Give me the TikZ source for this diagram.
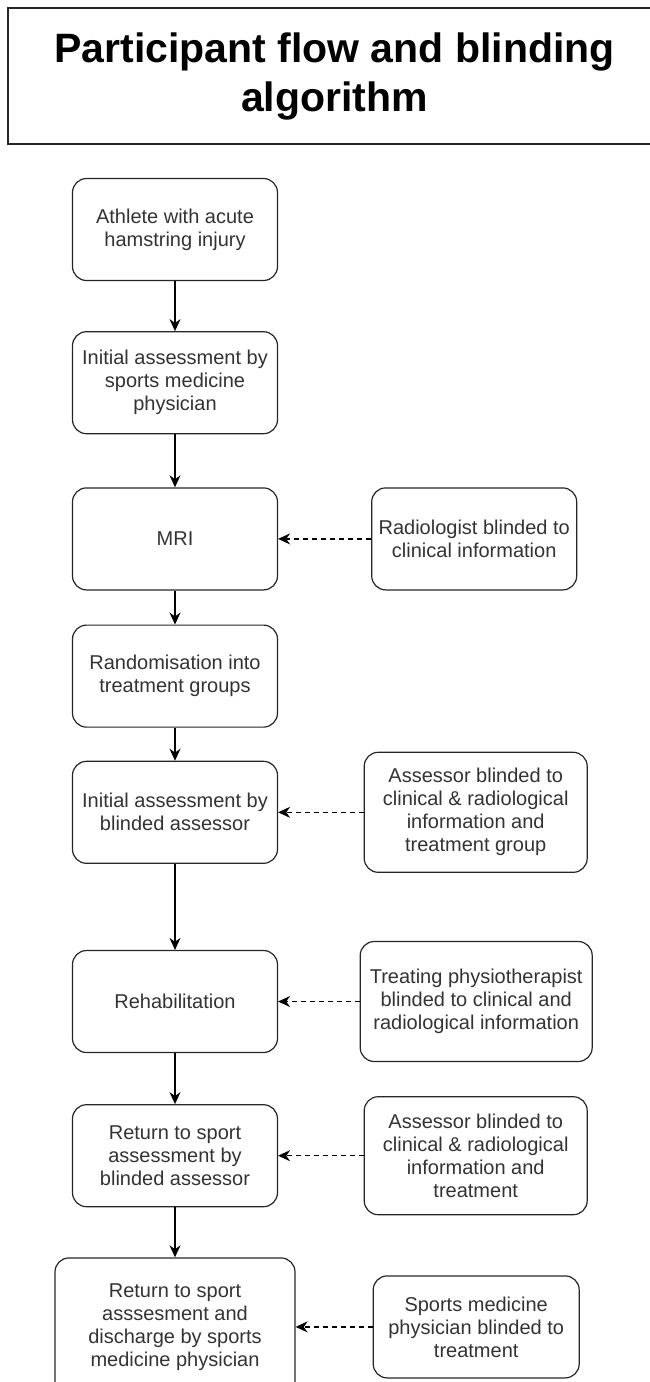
\documentclass[tikz,border=0pt]{standalone}
\usepackage{fontspec}
\setmainfont{Liberation Sans}
\usetikzlibrary{positioning,arrows.meta}

\begin{document}
\begin{tikzpicture}[x=1pt,y=-1pt,>={Stealth[length=12pt,width=11pt]},
                    line width=1.2pt]
  \tikzstyle{stage}=[draw=black!85,rounded corners=14pt,align=center,text=black!80,
                     minimum width=205pt,minimum height=102pt,inner sep=2pt,
                     font=\fontsize{20}{23}\selectfont]
  \tikzstyle{blind}=[stage]
  \tikzstyle{flow}=[->,draw=black]
  \tikzstyle{hide}=[->,draw=black,dash pattern=on 5pt off 4pt]

  \useasboundingbox (0,0) rectangle (649,1382);

  \node[draw=black!85,minimum width=653pt,minimum height=136pt,align=center,
        font=\fontsize{41}{49}\selectfont\bfseries] (title) at (334.5,76)
        {Participant flow and blinding\\algorithm};

  % main flow
  \node[stage]         (injury)    at (175,229.5) {Athlete with acute\\hamstring injury};
  \node[stage]         (initial)   [below=50pt of injury]  {Initial assessment by\\sports medicine\\physician};
  \node[stage]         (mri)       [below=53pt of initial] {MRI};
  \node[stage]         (random)    [below=34pt of mri]     {Randomisation into\\treatment groups};
  \node[stage]         (baseline)  [below=33pt of random]  {Initial assessment by\\blinded assessor};
  \node[stage]         (rehab)     [below=86pt of baseline] {Rehabilitation};
  \node[stage]         (rts)       [below=51pt of rehab]   {Return to sport\\assessment by\\blinded assessor};
  \node[stage,minimum width=240pt,minimum height=138pt]
                       (discharge) [below=50pt of rts]     {Return to sport\\asssesment and\\discharge by sports\\medicine physician};

  % blinding
  \node[blind]         (radiol)    [right=93pt of mri]      {Radiologist blinded to\\clinical information};
  \node[blind,minimum width=223pt,minimum height=120pt]
                       (assessA)   [right=85.5pt of baseline] {Assessor blinded to\\clinical \& radiological\\information and\\treatment group};
  \node[blind,minimum width=232pt,minimum height=120pt]
                       (physio)    [right=81.5pt of rehab]  {Treating physiotherapist\\blinded to clinical and\\radiological information};
  \node[blind,minimum width=223pt,minimum height=118pt]
                       (assessB)   [right=85.5pt of rts]    {Assessor blinded to\\clinical \& radiological\\information and\\treatment};
  \node[blind,minimum width=206pt]
                       (sportsdoc) [right=77pt of discharge] {Sports medicine\\physician blinded to\\treatment};

  \path (injury)    edge[flow] (initial)
        (initial)   edge[flow] (mri)
        (mri)       edge[flow] (random)
        (random)    edge[flow] (baseline)
        (baseline)  edge[flow] (rehab)
        (rehab)     edge[flow] (rts)
        (rts)       edge[flow] (discharge)
        (radiol)    edge[hide] (mri)
        (assessA)   edge[hide] (baseline)
        (physio)    edge[hide] (rehab)
        (assessB)   edge[hide] (rts)
        (sportsdoc) edge[hide] (discharge);
\end{tikzpicture}
\end{document}
